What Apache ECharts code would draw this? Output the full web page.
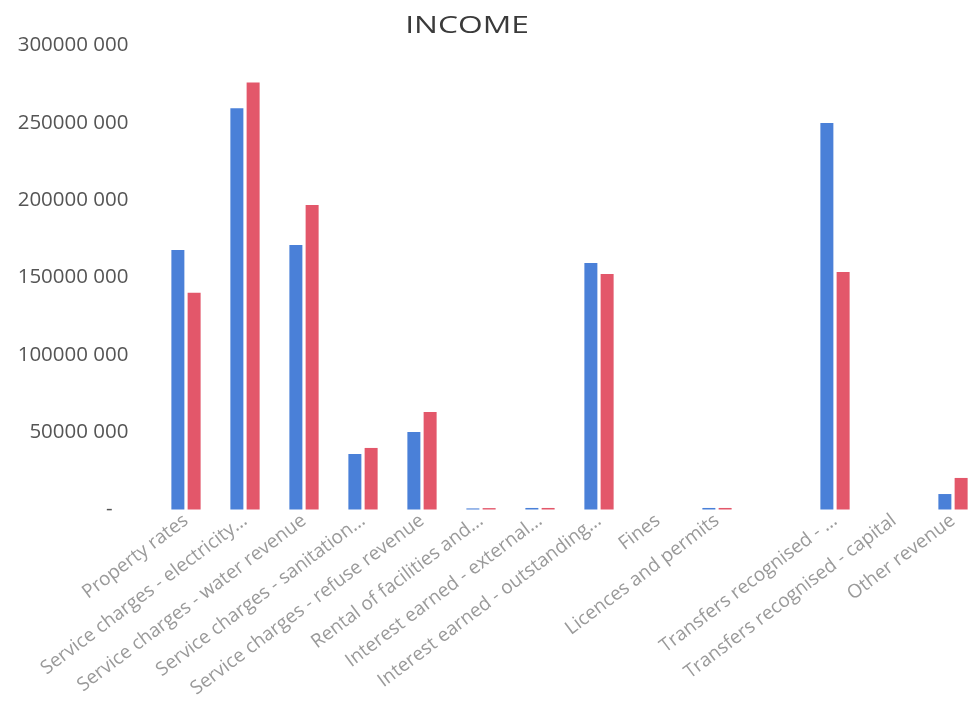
<!DOCTYPE html>
<html>
<head>
<meta charset="utf-8">
<style>html,body{margin:0;padding:0;background:#fff}#c{width:968px;height:714px}</style>
<script src="https://cdn.jsdelivr.net/npm/echarts@6/dist/echarts.min.js"></script>
</head>
<body>
<div id="c"></div>
<script>
const categories = [
  "Property rates",
  "Service charges - electricity...",
  "Service charges - water revenue",
  "Service charges - sanitation...",
  "Service charges - refuse revenue",
  "Rental of facilities and...",
  "Interest earned - external...",
  "Interest earned - outstanding...",
  "Fines",
  "Licences and permits",
  "",
  "Transfers recognised - ...",
  "Transfers recognised - capital",
  "Other revenue"
];
const seriesA = [167800000, 259400000, 171000000, 35900000, 50100000, 700000, 1000000, 159400000, 0, 1000000, 0, 249900000, 0, 10000000];
const seriesB = [140200000, 276000000, 196900000, 39800000, 63000000, 900000, 1000000, 152300000, 0, 1000000, 0, 153600000, 0, 20400000];
const yTicks = [0, 50000000, 100000000, 150000000, 200000000, 250000000, 300000000];
const chartTitle = 'INCOME';

function fmt(v) {
  if (v === 0) return '-   ';
  const s = String(Math.round(v));
  return s.slice(0, s.length - 3) + ' ' + s.slice(s.length - 3);
}

const chart = echarts.init(document.getElementById('c'));
chart.setOption({
  animation: false,
  backgroundColor: '#ffffff',
  graphic: [{
    type: 'text',
    x: 467,
    y: 26,
    scaleX: 1.38,
    style: {
      text: chartTitle,
      fontFamily: 'Open Sans',
      fontSize: 23,
      fill: '#3a3a3a',
      align: 'center',
      verticalAlign: 'middle'
    }
  }],
  grid: { left: 156.5, width: 826, top: 45.5, bottom: 204.5, containLabel: false, outerBoundsMode: 'none' },
  xAxis: {
    type: 'category',
    data: categories,
    axisLine: { show: false },
    axisTick: { show: false },
    axisLabel: {
      interval: 0,
      rotate: 37,
      margin: 9,
      fontFamily: 'Open Sans',
      fontSize: 19,
      color: '#9a9a9a'
    }
  },
  yAxis: {
    type: 'value',
    min: yTicks[0],
    max: yTicks[yTicks.length - 1],
    interval: 50000000,
    splitLine: { show: false },
    axisLine: { show: false },
    axisTick: { show: false },
    axisLabel: {
      margin: 28,
      fontFamily: 'Open Sans',
      fontSize: 20.5,
      color: '#555555',
      formatter: fmt
    }
  },
  series: [
    { type: 'bar', data: seriesA, barWidth: 13, barGap: '25%', itemStyle: { color: '#4a80d8' } },
    { type: 'bar', data: seriesB, barWidth: 13, itemStyle: { color: '#e3576a' } }
  ]
});
</script>
</body>
</html>
